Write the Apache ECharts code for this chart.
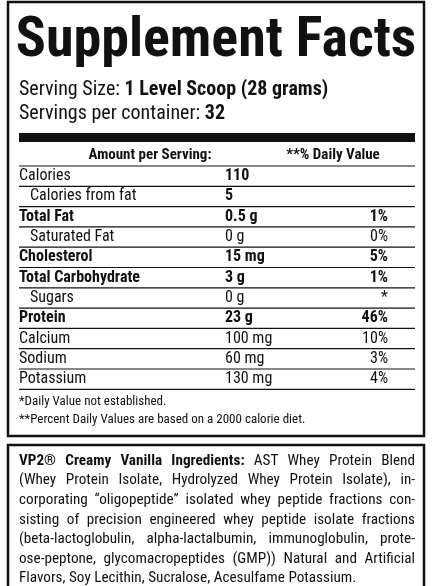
<!DOCTYPE html>
<html><head><meta charset="utf-8">
<script src="https://cdn.jsdelivr.net/npm/echarts@6/dist/echarts.min.js"></script>
<style>html,body{margin:0;padding:0;background:#fff}#c{width:432px;height:586px}</style>
</head><body><div id="c"></div>
<script>
const title = "Supplement Facts";
const servingSize = ["Serving Size: ", "1 Level Scoop (28 grams)"];
const servingsPer = ["Servings per container: ", "32"];
const headers = ["Amount per Serving:", "**% Daily Value"];
const nutrients = ["Calories","Calories from fat","Total Fat","Saturated Fat","Cholesterol","Total Carbohydrate","Sugars","Protein","Calcium","Sodium","Potassium"];
const amounts = ["110","5","0.5 g","0 g","15 mg","3 g","0 g","23 g","100 mg","60 mg","130 mg"];
const dailyValues = ["","","1%","0%","5%","1%","*","46%","10%","3%","4%"];
const indented = [false,true,false,true,false,false,true,false,false,false,false];
const boldRow = [false,false,true,false,true,true,false,true,false,false,false];
const boldAmount = [true,true,true,false,true,true,false,true,false,false,false];
const footnotes = ["*Daily Value not established.","**Percent Daily Values are based on a 2000 calorie diet."];
const ingredientLines = [
 "VP2® Creamy Vanilla Ingredients: AST Whey Protein Blend",
 "(Whey Protein Isolate, Hydrolyzed  Whey Protein Isolate), in-",
 "corporating “oligopeptide” isolated whey peptide fractions con-",
 "sisting of precision engineered whey peptide isolate fractions",
 "(beta-lactoglobulin, alpha-lactalbumin, immunoglobulin, prote-",
 "ose-peptone, glycomacropeptides (GMP)) Natural and Artificial",
 "Flavors, Soy Lecithin, Sucralose, Acesulfame Potassium."
];
const boldPrefix = "VP2® Creamy Vanilla Ingredients:";

const F = '"Liberation Sans Narrow","Roboto Condensed","DejaVu Sans Condensed",Arial,sans-serif';
const g = [];
const txt = (x,y,s,size,bold,align) => g.push({type:'text',x,y,style:{text:s,fontFamily:F,fontSize:size,fontWeight:bold?'bold':'normal',fill:'#111',textAlign:align||'left',textVerticalAlign:'middle'}});
const line = (x1,y1,x2,y2,w) => g.push({type:'line',shape:{x1,y1,x2,y2},style:{stroke:'#111',lineWidth:w}});
const rect = (x,y,w,h,lw) => g.push({type:'rect',shape:{x,y,width:w,height:h},style:{fill:null,stroke:'#111',lineWidth:lw}});
const fillRect = (x,y,w,h) => g.push({type:'rect',shape:{x,y,width:w,height:h},style:{fill:'#111'}});

const cv = document.createElement('canvas').getContext('2d');
const measure = (s,size,bold)=>{cv.font=(bold?'bold ':'')+size+'px '+F;return cv.measureText(s).width;};

rect(8,2,416,434,2.5);
txt(216,42,title,56,true,'center');
txt(19,90,servingSize[0],20,false);
txt(19+measure(servingSize[0],20,false),90,servingSize[1],20,true);
txt(19,114,servingsPer[0],20,false);
txt(19+measure(servingsPer[0],20,false),114,servingsPer[1],20,true);
fillRect(19,133,396,9);
txt(150,155,headers[0],15,true,'center');
txt(333,155,headers[1],15,true,'center');
line(19,166,415,166,1.2);
const rowH = 20.3;
nutrients.forEach((n,i)=>{
  const cy = 166 + rowH*i + rowH/2;
  txt(indented[i]?30:19,cy,n,16,boldRow[i]);
  txt(225,cy,amounts[i],16,boldAmount[i]);
  txt(388,cy,dailyValues[i],16,boldRow[i],'right');
  line(19,166+rowH*(i+1),415,166+rowH*(i+1),1.2);
});
txt(19,402,footnotes[0],13,false);
txt(19,420,footnotes[1],13,false);

rect(8,445,416,150,2.5);
const ingSize=15.2, left=19, right=415;
ingredientLines.forEach((ln,i)=>{
  const y = 461 + i*19.6;
  let segs = [];
  let rest = ln;
  if(i===0){ boldPrefix.split(' ').forEach(w=>segs.push([w,true])); rest = ln.slice(boldPrefix.length).trim(); }
  rest.split(/\s+/).forEach(w=>segs.push([w,false]));
  const total = segs.reduce((a,s)=>a+measure(s[0],ingSize,s[1]),0);
  const last = i===ingredientLines.length-1;
  const gap = last ? measure(' ',ingSize,false) : (right-left-total)/(segs.length-1);
  let x = left;
  segs.forEach(s=>{ txt(x,y,s[0],ingSize,s[1]); x += measure(s[0],ingSize,s[1]) + gap; });
});

const chart = echarts.init(document.getElementById('c'),null,{renderer:'canvas'});
chart.setOption({animation:false,graphic:{elements:g}});
</script></body></html>
